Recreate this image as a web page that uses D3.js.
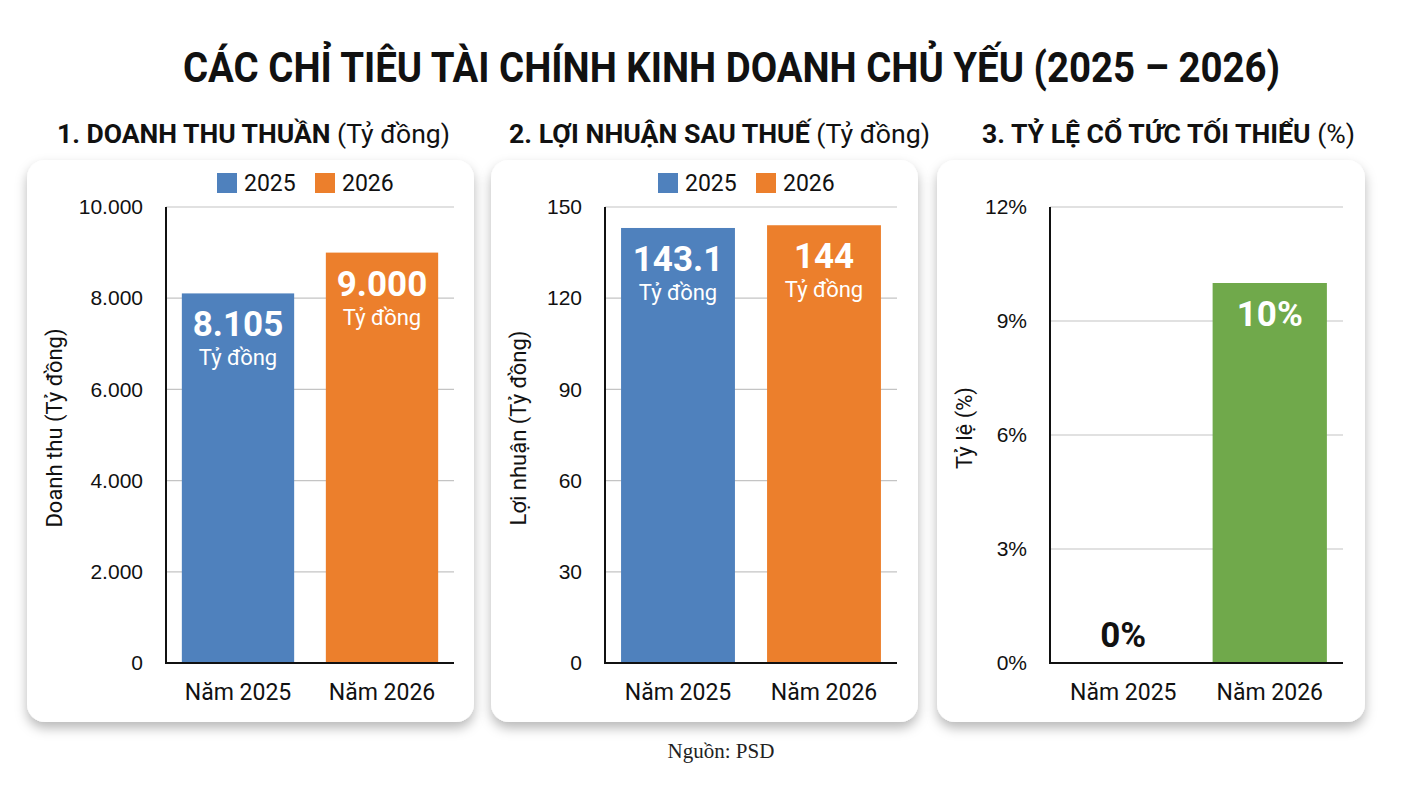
<!DOCTYPE html>
<html>
<head>
<meta charset="utf-8">
<script src="https://cdn.jsdelivr.net/npm/d3@7"></script>
<style>
  body { margin: 0; background: #fff; }
  svg { display: block; font-family: Roboto, "Noto Sans", sans-serif; }
  .tick-label { font-size: 21px; fill: #111; }
  .cat-label { font-size: 23px; fill: #111; }
  .axis-title { font-size: 22px; fill: #111; }
</style>
</head>
<body>
<svg width="1408" height="788"></svg>
<script>
// categories and values
var categories = ["Năm 2025", "Năm 2026"];
var years = ["2025", "2026"];
var revenue = [8105, 9000];
var profit = [143.1, 144];
var dividend = [0, 10];

var revenueTicks = [0, 2000, 4000, 6000, 8000, 10000];
var profitTicks = [0, 30, 60, 90, 120, 150];
var dividendTicks = [0, 3, 6, 9, 12];

var titleText = "CÁC CHỈ TIÊU TÀI CHÍNH KINH DOANH CHỦ YẾU (2025 – 2026)";
var panelTitles = [
  ["1. DOANH THU THUẦN", " (Tỷ đồng)"],
  ["2. LỢI NHUẬN SAU THUẾ", " (Tỷ đồng)"],
  ["3. TỶ LỆ CỔ TỨC TỐI THIỂU", " (%)"]
];
var axisTitles = ["Doanh thu (Tỷ đồng)", "Lợi nhuận (Tỷ đồng)", "Tỷ lệ (%)"];
var sourceText = "Nguồn: PSD";

var blue = "#4f81bd", orange = "#ec7f2c", green = "#70a94b";

var vi = d3.formatLocale({ decimal: ",", thousands: ".", grouping: [3], currency: ["", ""] });
var fmtThousands = vi.format(",d");

var panels = [
  { values: revenue, ticks: revenueTicks, max: 10000, colors: [blue, orange],
    tickFmt: fmtThousands, valFmt: fmtThousands, unit: "Tỷ đồng", legend: true,
    card: [27, 447], plot: [166, 288], titleSpan: [57, 393] },
  { values: profit, ticks: profitTicks, max: 150, colors: [blue, orange],
    tickFmt: d3.format("d"), valFmt: function(v) { return String(v); }, unit: "Tỷ đồng", legend: true,
    card: [491, 427], plot: [605, 292], titleSpan: [509, 421] },
  { values: dividend, ticks: dividendTicks, max: 12, colors: [green, green],
    tickFmt: function(v) { return v + "%"; }, valFmt: function(v) { return v + "%"; }, unit: null, legend: false,
    card: [937, 428], plot: [1050, 293], titleSpan: [982, 373] }
];

var svg = d3.select("svg");
var plotTop = 207, plotBottom = 663;

var defs = svg.append("defs");
var shadow = defs.append("filter").attr("id", "shadow")
  .attr("x", "-10%").attr("y", "-10%").attr("width", "120%").attr("height", "125%");
shadow.append("feDropShadow")
  .attr("dx", 0).attr("dy", 6).attr("stdDeviation", 6)
  .attr("flood-color", "#000").attr("flood-opacity", 0.28);

svg.append("text")
  .attr("x", 183).attr("y", 82)
  .attr("textLength", 1097).attr("lengthAdjust", "spacingAndGlyphs")
  .style("font-size", "42px").style("font-weight", 700).style("fill", "#111")
  .text(titleText);

panels.forEach(function(p, i) {
  var g = svg.append("g");

  // panel heading
  var head = g.append("text")
    .attr("x", p.titleSpan[0]).attr("y", 143)
    .attr("textLength", p.titleSpan[1]).attr("lengthAdjust", "spacingAndGlyphs")
    .style("font-size", "25px").style("fill", "#111");
  head.append("tspan").style("font-weight", 700).text(panelTitles[i][0]);
  head.append("tspan").style("font-weight", 400).text(panelTitles[i][1]);

  // card
  g.append("rect")
    .attr("x", p.card[0]).attr("y", 160)
    .attr("width", p.card[1]).attr("height", 562)
    .attr("rx", 18)
    .attr("fill", "#fff")
    .attr("filter", "url(#shadow)");

  var x = d3.scaleBand()
    .domain(categories)
    .range([p.plot[0], p.plot[0] + p.plot[1]])
    .paddingInner(0.22)
    .paddingOuter(0.11);

  var y = d3.scaleLinear().domain([0, p.max]).range([plotBottom, plotTop]);

  // gridlines
  g.append("g").selectAll("line")
    .data(p.ticks.filter(function(t) { return t > 0; }))
    .enter().append("line")
    .attr("x1", p.plot[0]).attr("x2", p.plot[0] + p.plot[1])
    .attr("y1", function(d) { return y(d); })
    .attr("y2", function(d) { return y(d); })
    .attr("stroke", "#c4c4c4").attr("stroke-width", 1.2);

  // y axis labels
  var yAxis = g.append("g")
    .attr("transform", "translate(" + p.plot[0] + ",0)")
    .call(d3.axisLeft(y).tickValues(p.ticks).tickFormat(p.tickFmt).tickSize(0).tickPadding(23));
  yAxis.select(".domain").remove();
  yAxis.selectAll("text").attr("class", "tick-label").attr("fill", null);

  // bars
  g.append("g").selectAll("rect")
    .data(p.values)
    .enter().append("rect")
    .attr("x", function(d, j) { return x(categories[j]); })
    .attr("y", function(d) { return y(d); })
    .attr("width", x.bandwidth())
    .attr("height", function(d) { return plotBottom - y(d); })
    .attr("fill", function(d, j) { return p.colors[j]; });

  // axis lines
  g.append("line")
    .attr("x1", p.plot[0]).attr("x2", p.plot[0])
    .attr("y1", plotTop).attr("y2", plotBottom)
    .attr("stroke", "#111").attr("stroke-width", 2);
  g.append("line")
    .attr("x1", p.plot[0] - 1).attr("x2", p.plot[0] + p.plot[1])
    .attr("y1", plotBottom).attr("y2", plotBottom)
    .attr("stroke", "#111").attr("stroke-width", 2);

  // category labels
  g.append("g").selectAll("text")
    .data(categories)
    .enter().append("text")
    .attr("class", "cat-label")
    .attr("x", function(d) { return x(d) + x.bandwidth() / 2; })
    .attr("y", 700)
    .attr("text-anchor", "middle")
    .text(function(d) { return d; });

  // value labels
  var vals = g.append("g").selectAll("g")
    .data(p.values)
    .enter().append("g")
    .attr("transform", function(d, j) {
      return "translate(" + (x(categories[j]) + x.bandwidth() / 2) + "," + y(d) + ")";
    });
  vals.append("text")
    .attr("text-anchor", "middle")
    .attr("y", function(d) { return d > 0 ? 43 : -16; })
    .style("font-size", "35px").style("font-weight", 700)
    .style("fill", function(d) { return d > 0 ? "#fff" : "#111"; })
    .text(function(d) { return p.valFmt(d); });
  if (p.unit) {
    vals.append("text")
      .attr("text-anchor", "middle")
      .attr("y", 72)
      .style("font-size", "22px")
      .style("fill", "#fff")
      .text(p.unit);
  }

  // axis title
  g.append("text")
    .attr("class", "axis-title")
    .attr("transform", "translate(" + (p.card[0] + 35) + "," + 428 + ") rotate(-90)")
    .attr("text-anchor", "middle")
    .text(axisTitles[i]);

  // legend
  if (p.legend) {
    var cx = p.plot[0] + p.plot[1] / 2;
    var items = [{ x: cx - 93, label: years[0], color: p.colors[0] },
                 { x: cx + 5, label: years[1], color: p.colors[1] }];
    var lg = g.append("g").selectAll("g").data(items).enter().append("g")
      .attr("transform", function(d) { return "translate(" + d.x + ",173)"; });
    lg.append("rect").attr("width", 20).attr("height", 20).attr("fill", function(d) { return d.color; });
    lg.append("text").attr("x", 27).attr("y", 18)
      .style("font-size", "23px").style("fill", "#111")
      .text(function(d) { return d.label; });
  }
});

svg.append("text")
  .attr("x", 721).attr("y", 758)
  .attr("text-anchor", "middle")
  .style("font-family", "'Liberation Serif', 'DejaVu Serif', serif")
  .style("font-size", "21px").style("fill", "#222")
  .text(sourceText);
</script>
</body>
</html>
